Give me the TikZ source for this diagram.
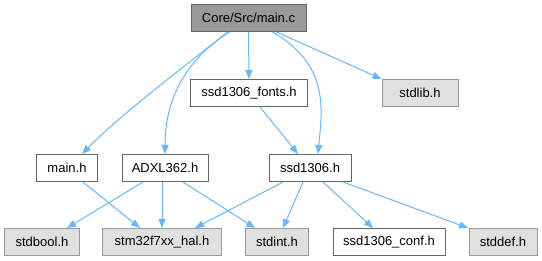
\documentclass[tikz,border=0pt]{standalone}
\usepackage{fontspec}
\setmainfont{Liberation Sans}
\usetikzlibrary{arrows.meta}
\definecolor{link}{HTML}{63B8FF}
\definecolor{rim}{HTML}{666666}
\definecolor{sysrim}{HTML}{999999}
\definecolor{sysbg}{HTML}{E0E0E0}
\definecolor{rootbg}{HTML}{999999}

\begin{document}
\begin{tikzpicture}[x=1pt, y=-1pt]
  \tikzset{
    file/.style={draw=rim,fill=white,minimum height=27pt,inner xsep=8pt,inner ysep=0pt,line width=1pt,font=\fontsize{13}{15}\selectfont},
    sysfile/.style={file,draw=sysrim,fill=sysbg},
    root/.style={file,fill=rootbg},
    dep/.style={draw=link,line width=1pt,-{Triangle[length=9pt,width=7pt]}}
  }
  \useasboundingbox (0,0) rectangle (542,261);
  \node[root,minimum width=115pt] (mainc) at (248.5,18) {Core/Src/main.c};
  \node[file,minimum width=117pt] (fonts) at (249,93) {ssd1306\_fonts.h};
  \node[sysfile,minimum width=76pt] (stdlib) at (420,93) {stdlib.h};
  \node[file,minimum width=61pt] (mainh) at (67,168) {main.h};
  \node[file,minimum width=86pt] (adxl) at (165,168) {ADXL362.h};
  \node[file,minimum width=82pt] (ssd) at (310,168) {ssd1306.h};
  \node[sysfile,minimum width=75pt] (stdbool) at (42,242) {stdbool.h};
  \node[sysfile,minimum width=119pt] (hal) at (162,242) {stm32f7xx\_hal.h};
  \node[sysfile,minimum width=63pt] (stdint) at (277,242) {stdint.h};
  \node[file,minimum width=112pt] (conf) at (389,242) {ssd1306\_conf.h};
  \node[sysfile,minimum width=68pt] (stddef) at (503,242) {stddef.h};
  % main.c includes
  \draw[dep] ([xshift=-21pt]mainc.south) .. controls (180,70) and (120,115) .. ([xshift=15pt]mainh.north);
  \draw[dep] ([xshift=-19pt]mainc.south) .. controls (185,60) and (165,100) .. (adxl.north);
  \draw[dep] (mainc) -- (fonts);
  \draw[dep] ([xshift=24pt]mainc.south) .. controls (330,65) and (322,110) .. ([xshift=8pt]ssd.north);
  \draw[dep] ([xshift=28pt]mainc.south) -- (stdlib.north west);
  \draw[dep] ([xshift=11pt]fonts.south) -- ([xshift=-12pt]ssd.north);
  % header includes
  \draw[dep] ([xshift=16pt]mainh.south) -- ([xshift=-22pt]hal.north);
  \draw[dep] ([xshift=-22pt]adxl.south) -- ([xshift=25pt]stdbool.north);
  \draw[dep] ([xshift=-3pt]adxl.south) -- (hal.north);
  \draw[dep] ([xshift=18pt]adxl.south) -- ([xshift=-22pt]stdint.north);
  \draw[dep] ([xshift=-27pt]ssd.south) -- ([xshift=33pt]hal.north);
  \draw[dep] ([xshift=-7pt]ssd.south) -- ([xshift=6pt]stdint.north);
  \draw[dep] ([xshift=13pt]ssd.south) -- ([xshift=-16pt]conf.north);
  \draw[dep] ([xshift=33pt]ssd.south) -- ([xshift=-35pt]stddef.north);
\end{tikzpicture}
\end{document}
